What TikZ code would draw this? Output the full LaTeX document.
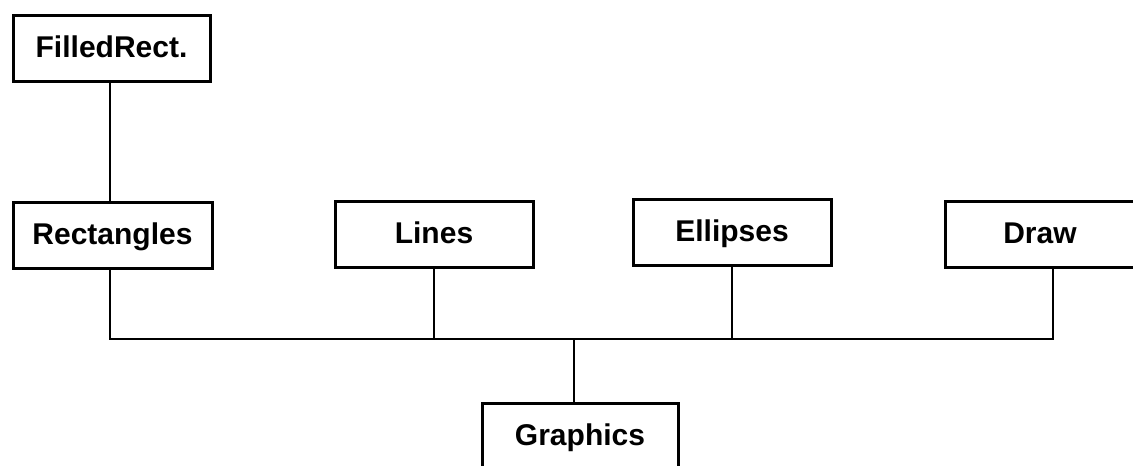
\documentclass[tikz,border=0pt]{standalone}
\usepackage{fontspec}
\setmainfont{Liberation Sans}
\begin{document}
\begin{tikzpicture}[x=1pt,y=-1pt,
  classbox/.style={draw, line width=3pt, inner sep=0pt, minimum height=66pt,
    text height=22pt, text depth=4pt,
    font=\fontsize{30}{34}\selectfont\bfseries},
  link/.style={line width=2.6pt}]
\useasboundingbox (0,0) rectangle (1133,466);

% class boxes
\node[classbox, minimum width=197pt] (filled) at (111.5,48.5) {FilledRect.};
\node[classbox, minimum width=199pt] (rect) at (112.5,235) {Rectangles};
\node[classbox, minimum width=198pt] (lines) at (434,234) {Lines};
\node[classbox, minimum width=198pt] (ellipses) at (732,232.5) {Ellipses};
\node[classbox, minimum width=190pt] (drawbox) at (1040,234.5) {Draw};
\node[classbox, minimum width=196pt] (graphics) at (580,436) {Graphics};

% bus and tap points
\coordinate (busL) at (110,339);
\coordinate (busR) at (1053,339);
\coordinate (busG) at (574,339);

% connectors
\draw[link] (filled.south -| busL) -- (rect.north -| busL);
\draw[link] (rect.south -| busL) -- (busL) -- (busR) -- (drawbox.south -| busR);
\draw[link] (lines.south) -- (lines.south |- busL);
\draw[link] (ellipses.south) -- (ellipses.south |- busL);
\draw[link] (busG) -- (graphics.north -| busG);
\end{tikzpicture}
\end{document}
